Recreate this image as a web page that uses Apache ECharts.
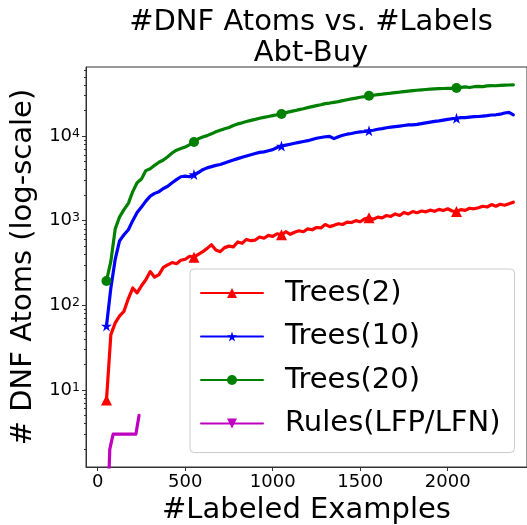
<!DOCTYPE html>
<html><head><meta charset="utf-8">
<script src="https://cdn.jsdelivr.net/npm/echarts@6/dist/echarts.min.js"></script>
<style>html,body{margin:0;padding:0;background:#fff}#c{width:527px;height:525px}</style>
</head><body><div id="c"></div>
<script>
// ---- data ----
const xs = [
  50,75,100,125,150,175,200,225,250,275,
  300,325,350,375,400,425,450,475,500,525,
  550,575,600,625,650,675,700,725,750,775,
  800,825,850,875,900,925,950,975,1000,1025,
  1050,1075,1100,1125,1150,1175,1200,1225,1250,1275,
  1300,1325,1350,1375,1400,1425,1450,1475,1500,1525,
  1550,1575,1600,1625,1650,1675,1700,1725,1750,1775,
  1800,1825,1850,1875,1900,1925,1950,1975,2000,2025,
  2050,2075,2100,2125,2150,2175,2200,2225,2250,2275,
  2300,2325,2350,2375
];
const trees2 = [
  7.6,45,62,75,85,120,160,140,170,200,
  250,215,230,280,300,320,310,340,350,380,
  370,400,430,470,520,450,430,480,500,490,
  560,540,600,580,590,640,620,670,650,700,
  680,740,690,730,760,740,800,780,830,820,
  900,850,880,920,900,960,950,1000,970,1050,
  1080,1040,1100,1080,1150,1120,1200,1150,1250,1200,
  1280,1240,1300,1270,1330,1290,1360,1320,1380,1300,
  1280,1350,1320,1400,1380,1420,1480,1450,1550,1480,
  1560,1520,1580,1650
];
const trees10 = [
  57,160,350,580,680,780,1000,1250,1450,1700,
  1950,2100,2200,2400,2550,2800,3050,3300,3350,3300,
  3500,3700,4000,4200,4350,4500,4600,4800,5000,5200,
  5400,5600,5800,6000,6200,6400,6500,6700,6900,7300,
  7600,7800,8000,8200,8400,8600,8800,9100,9400,9600,
  9800,9900,9300,9800,10200,10500,10700,11000,11200,11300,
  11500,11700,12000,12200,12500,12700,12900,13100,13300,13500,
  13500,13700,14000,14300,14600,14900,15100,15400,15700,16000,
  16200,16500,16500,16700,16900,17000,17200,17400,17700,17800,
  18100,18700,19000,17800
];
const trees20 = [
  194,330,800,1110,1350,1600,2200,2800,3100,3900,
  4100,4500,4900,5200,5700,6300,6800,7100,7400,7900,
  8500,9300,9700,10100,10600,11200,11700,12200,12600,13300,
  13900,14300,14800,15300,15700,16200,16600,17000,17400,17800,
  18200,18900,19400,19900,20500,21000,21600,22200,22800,23400,
  24100,24500,25000,25500,26200,26800,27400,28000,28700,29200,
  29900,30300,30800,31200,31700,32100,32600,33000,33500,33900,
  34300,34700,35100,35400,35700,36000,36200,36400,36500,36600,
  36800,37500,38000,37400,38200,38600,38300,39000,39400,39200,
  39600,39800,40000,40200
];
const rulesX = [64,69,88,218,236];
const rulesY = [1,2,3,3,5];
const markerX = [50,550,1050,1550,2050];
const xTicks = [0,500,1000,1500,2000];
const yMajorTicks = [10,100,1000,10000];
const yMinorTicks = [2,3,4,5,6,7,8,9,20,30,40,50,60,70,80,90,200,300,400,500,600,700,800,900,
  2000,3000,4000,5000,6000,7000,8000,9000,20000,30000,40000,50000,60000];
const titleText = '#DNF Atoms vs. #Labels\nAbt-Buy';
const xName = '#Labeled Examples';
const yName = '# DNF Atoms (log-scale)';

// ---- chart ----
const FONT = 'DejaVu Sans';
const AX = '#333';
const STAR = 'path://M50,0L61.2,34.5L97.6,34.5L68.2,55.9L79.4,90.5L50,69.1L20.6,90.5L31.8,55.9L2.4,34.5L38.8,34.5Z';
const TRI_DOWN = 'path://M0,0L100,0L50,87Z';

function lineSeries(name, px, py, color, symbol, size) {
  return {
    name: name, type: 'line',
    data: px.map((x, i) => [x, py[i]]),
    symbol: symbol,
    symbolSize: v => (markerX.indexOf(v[0]) >= 0 ? size : 0),
    showSymbol: true, showAllSymbol: true,
    lineStyle: { color: color, width: 3.2, join: 'round', cap: 'round' },
    itemStyle: { color: color },
    emphasis: { disabled: true },
    clip: true
  };
}

const chart = echarts.init(document.getElementById('c'), null, { renderer: 'canvas' });
chart.setOption({
  animation: false,
  backgroundColor: '#fff',
  textStyle: { fontFamily: FONT },
  title: {
    text: titleText, left: 306, top: 2, textAlign: 'center',
    textStyle: { fontFamily: FONT, fontSize: 29, fontWeight: 'normal', color: '#000', lineHeight: 31 }
  },
  grid: {
    left: 86, top: 67, right: 0, bottom: 58, show: true,
    borderColor: AX, borderWidth: 1, backgroundColor: 'transparent',
    containLabel: false, outerBoundsMode: 'none'
  },
  legend: {
    orient: 'vertical', left: 190, top: 269,
    padding: [7, 14, 12, 10], itemGap: 9.5, itemWidth: 62, itemHeight: 12.5,
    backgroundColor: 'rgba(255,255,255,0.8)', borderColor: '#ccc', borderWidth: 1, borderRadius: 4,
    textStyle: { fontFamily: FONT, fontSize: 29, lineHeight: 34, color: '#000', padding: [0, 0, 0, 17] },
    selectedMode: false,
    data: ['Trees(2)', 'Trees(10)', 'Trees(20)', 'Rules(LFP/LFN)']
  },
  xAxis: {
    type: 'value', min: -67, max: 2453,
    name: xName, nameLocation: 'middle', nameGap: 21,
    nameTextStyle: { fontFamily: FONT, fontSize: 29, color: '#000' },
    axisLine: { show: true, onZero: false, lineStyle: { color: AX, width: 1 } },
    axisTick: { show: true, length: 4, customValues: xTicks, lineStyle: { color: AX } },
    axisLabel: { customValues: xTicks, margin: 6, fontFamily: FONT, fontSize: 18, color: '#000',
      formatter: v => String(v) },
    splitLine: { show: false }
  },
  yAxis: [{
    type: 'log', logBase: 10, min: 1.23, max: 65300, position: 'left',
    name: yName, nameLocation: 'middle', nameGap: 42, nameRotate: 90,
    nameTextStyle: { fontFamily: FONT, fontSize: 29, color: '#000' },
    axisLine: { show: true, onZero: false, lineStyle: { color: AX, width: 1 } },
    axisTick: { show: true, length: 4, customValues: yMajorTicks, lineStyle: { color: AX } },
    axisLabel: {
      customValues: yMajorTicks, margin: 6,
      formatter: v => '{b|10}{s|' + Math.round(Math.log10(v)) + '}',
      rich: {
        b: { fontFamily: FONT, fontSize: 18, lineHeight: 18, color: '#000', verticalAlign: 'bottom' },
        s: { fontFamily: FONT, fontSize: 12.5, lineHeight: 12.5, color: '#000', verticalAlign: 'top' }
      }
    },
    splitLine: { show: false }, minorTick: { show: false }
  }, {
    type: 'log', logBase: 10, min: 1.23, max: 65300, position: 'left', offset: 0,
    axisLine: { show: false, onZero: false },
    axisTick: { show: true, length: 2, customValues: yMinorTicks, lineStyle: { color: AX } },
    axisLabel: { show: false },
    splitLine: { show: false }
  }],
  series: [
    lineSeries('Trees(2)', xs, trees2, '#ff0000', 'triangle', 11),
    lineSeries('Trees(10)', xs, trees10, '#0000ff', STAR, 11),
    lineSeries('Trees(20)', xs, trees20, '#008000', 'circle', 10),
    lineSeries('Rules(LFP/LFN)', rulesX, rulesY, '#bf00bf', TRI_DOWN, 0)
  ]
});
</script>
</body></html>
